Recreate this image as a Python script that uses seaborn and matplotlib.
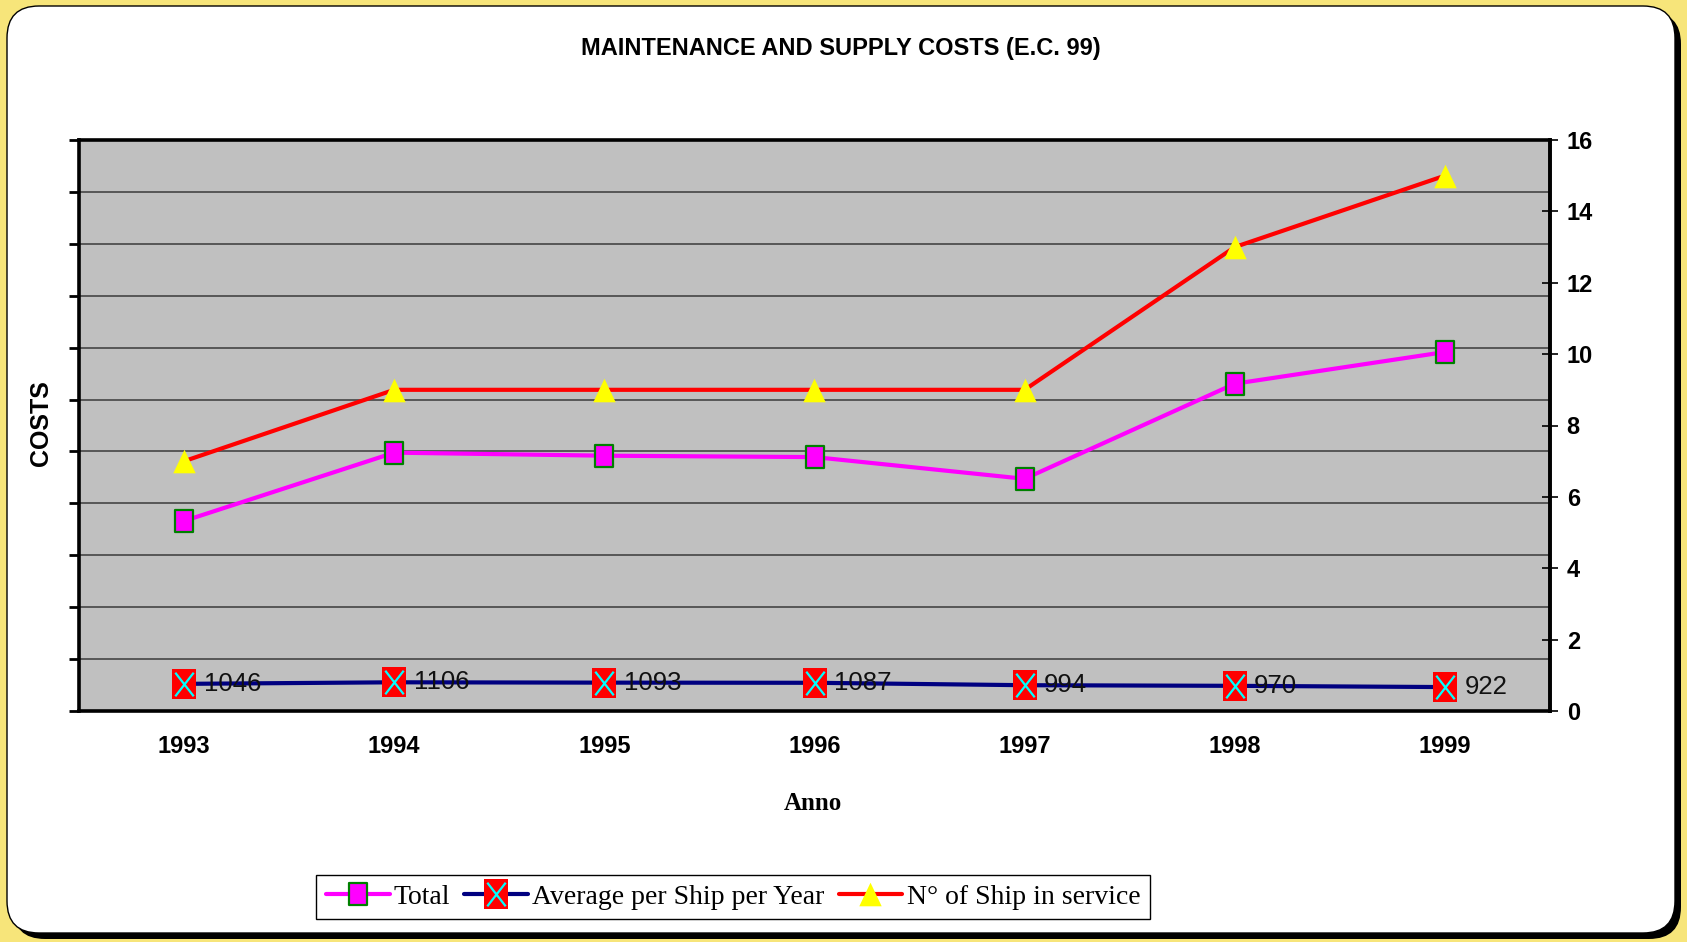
import numpy as np
import pandas as pd
import matplotlib
matplotlib.use("Agg")
import matplotlib.pyplot as plt
import seaborn as sns
from matplotlib.lines import Line2D
from matplotlib.legend_handler import HandlerTuple
from matplotlib.patches import FancyBboxPatch
from matplotlib.path import Path
from matplotlib import font_manager

# ---------------- data ----------------
years = ["1993", "1994", "1995", "1996", "1997", "1998", "1999"]
total = [7322, 9954, 9837, 9783, 8946, 12610, 13830]
avg_per_ship = [1046, 1106, 1093, 1087, 994, 970, 922]
ships = [7, 9, 9, 9, 9, 13, 15]
right_ticks = [0, 2, 4, 6, 8, 10, 12, 14, 16]
series_names = ["Total", "Average per Ship per Year", "N° of Ship in service"]
title = "MAINTENANCE AND SUPPLY COSTS (E.C. 99)"


def has_font(name):
    try:
        font_manager.findfont(font_manager.FontProperties(family=name),
                              fallback_to_default=False)
        return True
    except Exception:
        return False


NARROW = "Liberation Sans Narrow" if has_font("Liberation Sans Narrow") else "Liberation Sans"
SERIF = "Liberation Serif"

sns.set_style("white")
plt.rcParams["font.family"] = [NARROW, "DejaVu Sans"]
plt.rcParams["text.color"] = "black"
plt.rcParams["xtick.color"] = "black"
plt.rcParams["ytick.color"] = "black"
plt.rcParams["axes.labelcolor"] = "black"

W, H, DPI = 16.87, 9.42, 100
fig = plt.figure(figsize=(W, H), dpi=DPI)
fig.patch.set_facecolor("#F7E57A")

# card with shadow (in inches)
x0, y0 = 0.07, 0.09
x1, y1 = 16.75, 9.36
r = 0.32
shadow = FancyBboxPatch((x0 + 0.06, y0 - 0.06), x1 - x0, y1 - y0,
                        boxstyle=f"round,pad=0,rounding_size={r}",
                        transform=fig.dpi_scale_trans, facecolor="black",
                        edgecolor="black", lw=0, zorder=0)
card = FancyBboxPatch((x0, y0), x1 - x0, y1 - y0,
                      boxstyle=f"round,pad=0,rounding_size={r}",
                      transform=fig.dpi_scale_trans, facecolor="white",
                      edgecolor="black", lw=1.0, zorder=1)
fig.patches.extend([shadow, card])

# axes position (pixels -> fractions)
L, R, T, B = 79, 1550, 140, 711
ax = fig.add_axes([L / 1687, 1 - B / 942, (R - L) / 1687, (B - T) / 942])
ax.set_facecolor("#C0C0C0")
ax.set_zorder(2)

df = pd.DataFrame({"pos": np.arange(len(years)), "year": years,
                   "total": total, "avg": avg_per_ship, "ships": ships})

# custom (slightly tall) markers
tall_square = Path([(-0.85, -1), (0.85, -1), (0.85, 1), (-0.85, 1), (-0.85, -1)],
                   [Path.MOVETO, Path.LINETO, Path.LINETO, Path.LINETO, Path.CLOSEPOLY])
red_square = Path([(-0.82, -1), (0.82, -1), (0.82, 1), (-0.82, 1), (-0.82, -1)],
                  [Path.MOVETO, Path.LINETO, Path.LINETO, Path.LINETO, Path.CLOSEPOLY])
x_mark = Path([(-0.78, -1), (0.78, 1), (-0.78, 1), (0.78, -1)],
              [Path.MOVETO, Path.LINETO, Path.MOVETO, Path.LINETO])
tall_tri = Path([(0, 1), (-0.95, -1), (0.95, -1), (0, 1)],
                [Path.MOVETO, Path.LINETO, Path.LINETO, Path.CLOSEPOLY])

# Total
sns.lineplot(data=df, x="pos", y="total", ax=ax, color="#FF00FF", lw=3.0,
             marker=tall_square, markersize=15.5, markerfacecolor="#FF00FF",
             markeredgecolor="#008000", markeredgewidth=1.6, zorder=5)
# Average per ship
sns.lineplot(data=df, x="pos", y="avg", ax=ax, color="#000080", lw=3.0,
             marker=red_square, markersize=21, markerfacecolor="#FF0000",
             markeredgecolor="#FF0000", markeredgewidth=0, zorder=5)
sns.lineplot(data=df, x="pos", y="avg", ax=ax, color="none", lw=0,
             marker=x_mark, markersize=17, markerfacecolor="none",
             markeredgecolor="#00FFFF", markeredgewidth=1.6, zorder=6)
for p, v in zip(df["pos"], df["avg"]):
    ax.annotate(str(v), (p, v), xytext=(14, 0), textcoords="offset points",
                va="center", ha="left", fontsize=18.5, color="#111111",
                family=[NARROW, "DejaVu Sans"], zorder=7)

ax.set_xlim(-0.5, len(years) - 0.5)
ax.set_ylim(0, 22000)
ax.set_yticks(np.arange(0, 22001, 2000))
ax.set_yticklabels([])
ax.yaxis.grid(True, color="#3a3a3a", lw=1.1)
ax.xaxis.grid(False)
ax.set_xticks(df["pos"])
ax.set_xticklabels(years, fontsize=17, fontweight="bold")
ax.set_xticks(np.arange(-0.5, len(years), 1.0), minor=True)
ax.tick_params(axis="x", which="major", direction="out", length=4, width=1,
               color="#333333", pad=13)
ax.tick_params(axis="x", which="minor", direction="out", length=8, width=1.2,
               color="#333333")
ax.tick_params(axis="y", which="major", direction="out", length=7, width=2,
               color="black", left=True)
ax.set_xlabel("")
ax.set_ylabel("")
for s in ax.spines.values():
    s.set_visible(True)
    s.set_color("black")
    s.set_linewidth(2.6)

# right axis for ships
ax2 = ax.twinx()
sns.lineplot(data=df, x="pos", y="ships", ax=ax2, color="#FF0000", lw=3.0,
             marker=tall_tri, markersize=17, markerfacecolor="#FFFF00",
             markeredgecolor="#FFFF00", markeredgewidth=0, zorder=5)
ax2.set_ylim(0, 16)
ax2.set_yticks(right_ticks)
ax2.set_yticklabels([str(t) for t in right_ticks], fontsize=17, fontweight="bold")
ax2.tick_params(axis="y", direction="inout", length=12, width=1.2, pad=6,
                right=True, colors="black")
ax2.set_ylabel("")
ax2.set_xlabel("")
ax2.set_xlim(-0.5, len(years) - 0.5)
for k, s in ax2.spines.items():
    s.set_visible(k == "right")
    s.set_color("black")
    s.set_linewidth(2.6)
ax2.grid(False)

# texts
fig.text(841 / 1687, 1 - 49 / 942, title, ha="center", va="center",
         fontsize=17, fontweight="bold", color="black")
fig.text(41 / 1687, 1 - 423 / 942, "COSTS", rotation=90, ha="center",
         va="center", fontsize=18, fontweight="bold", color="black",
         family=["Liberation Sans", "DejaVu Sans"])
fig.text(813 / 1687, 1 - 803 / 942, "Anno", ha="center", va="center",
         fontsize=18, fontweight="bold", color="black",
         family=[SERIF, "DejaVu Serif"])

# legend
h_total = Line2D([], [], color="#FF00FF", lw=3.0, marker=tall_square,
                 markersize=15.5, markerfacecolor="#FF00FF",
                 markeredgecolor="#008000", markeredgewidth=1.6)
h_avg_a = Line2D([], [], color="#000080", lw=3.0, marker=red_square,
                 markersize=21, markerfacecolor="#FF0000",
                 markeredgecolor="#FF0000", markeredgewidth=0)
h_avg_b = Line2D([], [], color="none", lw=0, marker=x_mark, markersize=17,
                 markerfacecolor="none", markeredgecolor="#00FFFF",
                 markeredgewidth=1.6)
h_ship = Line2D([], [], color="#FF0000", lw=3.0, marker=tall_tri,
                markersize=17, markerfacecolor="#FFFF00",
                markeredgecolor="#FFFF00", markeredgewidth=0)
leg = fig.legend([h_total, (h_avg_a, h_avg_b), h_ship], series_names,
                 handler_map={tuple: HandlerTuple(ndivide=1)},
                 loc="center", bbox_to_anchor=(733 / 1687, 1 - 897 / 942),
                 ncol=3, frameon=True, fancybox=False, shadow=False,
                 edgecolor="black", facecolor="white", framealpha=1,
                 handlelength=2.3, handletextpad=0.15, columnspacing=0.5,
                 borderpad=0.35, labelcolor="black",
                 prop={"family": [SERIF, "DejaVu Serif"], "size": 20})
leg.get_frame().set_linewidth(1.0)

fig.savefig("out.png", dpi=DPI, facecolor=fig.get_facecolor())
